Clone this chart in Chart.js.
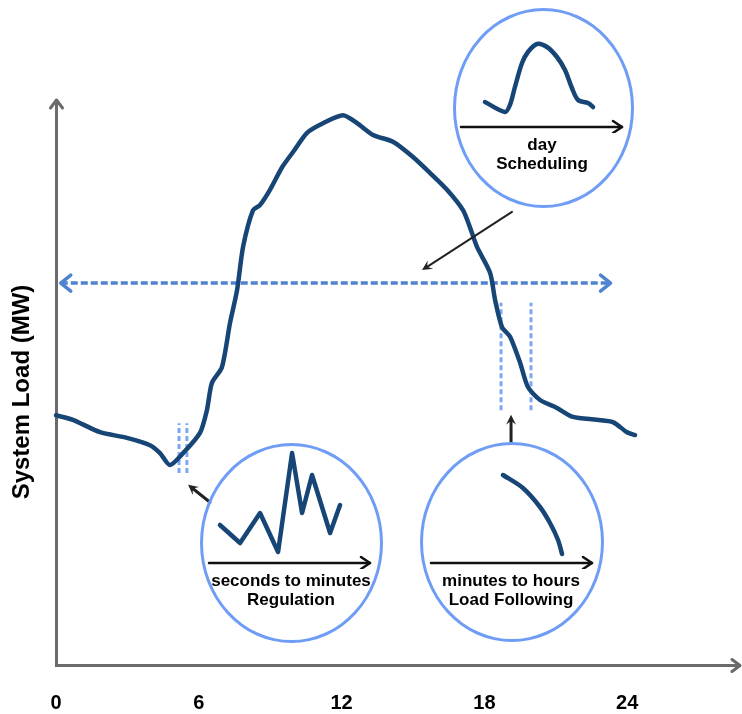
<!DOCTYPE html>
<html>
<head>
<meta charset="utf-8">
<script src="https://cdn.jsdelivr.net/npm/chart.js@4.4.1/dist/chart.umd.min.js"></script>
<style>
  html, body { margin:0; padding:0; background:#fff; }
  #stage { position:relative; width:742px; height:714px; overflow:hidden; }
  #main { position:absolute; left:0; top:0; }
  .ellipse { position:absolute; box-sizing:border-box; border:3px solid #6f9df5; border-radius:50%; }
  .inset { position:absolute; }
  .label { position:absolute; width:220px; text-align:center; font:bold 17px "Liberation Sans", Arial, sans-serif; line-height:19px; color:#000; }
</style>
</head>
<body>
<div id="stage">
  <canvas id="main" width="742" height="714"></canvas>

  <div class="ellipse" style="left:200px;top:443px;width:183px;height:200px;"></div>
  <div class="ellipse" style="left:420px;top:442px;width:184px;height:200px;"></div>
  <div class="ellipse" style="left:453px;top:8px;width:181px;height:200px;"></div>

  <div class="inset" style="left:203px;top:437px;width:173px;height:132px;"><canvas id="reg" width="173" height="132"></canvas></div>
  <div class="inset" style="left:425px;top:437px;width:173px;height:132px;"><canvas id="lf" width="173" height="132"></canvas></div>
  <div class="inset" style="left:455px;top:21px;width:173px;height:112px;"><canvas id="sch" width="173" height="112"></canvas></div>

  <div class="label" style="left:181px;top:571px;">seconds to minutes<br>Regulation</div>
  <div class="label" style="left:401px;top:571px;">minutes to hours<br>Load Following</div>
  <div class="label" style="left:432px;top:135px;">day<br>Scheduling</div>
</div>

<script>
// ---- Main daily load curve (hours, load in % of axis height) ----
const hours = [0,0.71,1.85,2.98,3.95,4.37,4.79,5.34,6.05,6.34,6.55,6.97,7.31,7.61,7.86,8.28,8.57,8.99,9.50,9.96,10.55,11.22,12.06,12.65,13.32,14.16,15.0,15.71,16.43,17.10,17.39,17.69,18.24,18.45,18.74,19.08,19.50,19.83,20.34,21.05,21.72,22.73,23.40,23.99,24.33];
const load  = [44.2,43.4,41.2,40.2,38.9,37.5,35.4,37.5,41.1,45.1,49.9,52.7,60.5,66.4,74.0,80.5,81.4,84.1,88.1,90.8,94.2,95.9,97.3,95.9,93.8,92.6,89.9,87.1,84.1,80.5,77.5,74.0,69.4,64.6,59.8,58.1,53.5,49.2,46.9,45.5,43.9,43.4,43.0,41.2,40.7];
const tickLabels = [0, 6, 12, 18, 24];

// Scheduling horizon arrow (double headed): start hour, end hour, level
const rangeArrowHours = [0.2, 23.3];
const rangeArrowLevel = [67.6, 67.6];

// Regulation window markers (two dashed verticals)
const regMarkerHours = [5.17, 5.50];
const regMarkerLoad  = [34.0, 42.8];
// Load-following window markers
const lfMarkerHours = [18.70, 19.96];
const lfMarkerLoad  = [45.1, 64.1];

// Callout pointers [fromHour, fromLoad, toHour, toLoad]
const schedPointer = [19.16, 80.2, 15.38, 69.9];
const regPointer   = [6.47, 28.8, 5.55, 31.9];
const lfPointer    = [19.12, 39.5, 19.12, 44.3];

// ---- Inset series ----
const regT = [0.68,1.93,3.17,4.29,5.16,5.78,6.40,7.52,8.14];
const regV = [38,20,50,11,110,50,88,30,58];
const lfT  = [4.47,5.71,6.77,7.39,7.89,8.14];
const lfV  = [88,75,56,40,23,9];
const schT = [1.49,2.73,3.04,3.35,3.79,4.16,4.72,5.34,5.96,6.46,6.89,7.27,7.89,8.20];
const schV = [25,15,22,40,64,75,83,80,70,57,39,27,24,20];

const NAVY = '#174575';
const FONT = '"Liberation Sans", Arial, sans-serif';

function pts(xs, ys){ return xs.map((v,i)=>({x:v, y:ys[i]})); }

function chevron(ctx, x, y, ang, len, half){
  const c = Math.cos(ang), s = Math.sin(ang);
  ctx.beginPath();
  ctx.moveTo(x - len*c - half*s, y - len*s + half*c);
  ctx.lineTo(x, y);
  ctx.lineTo(x - len*c + half*s, y - len*s - half*c);
  ctx.stroke();
}
function pointer(ctx, x1, y1, x2, y2, w){
  const ang = Math.atan2(y2-y1, x2-x1);
  const c = Math.cos(ang), s = Math.sin(ang);
  const len = 10, half = 5;
  ctx.lineWidth = w;
  ctx.beginPath();
  ctx.moveTo(x1, y1);
  ctx.lineTo(x2 - len*0.6*c, y2 - len*0.6*s);
  ctx.stroke();
  ctx.beginPath();
  ctx.moveTo(x2, y2);
  ctx.lineTo(x2 - len*c - half*s, y2 - len*s + half*c);
  ctx.lineTo(x2 - len*0.6*c, y2 - len*0.6*s);
  ctx.lineTo(x2 - len*c + half*s, y2 - len*s - half*c);
  ctx.closePath();
  ctx.fill();
}

const overlay = {
  id: 'overlay',
  afterDraw(chart){
    const {ctx, chartArea:a, scales:{x, y}} = chart;
    ctx.save();
    ctx.lineCap = 'round'; ctx.lineJoin = 'round';
    // axis arrowheads
    ctx.strokeStyle = '#6b6b6b'; ctx.lineWidth = 3;
    chevron(ctx, a.left + 0.5, a.top, -Math.PI/2, 8, 6);
    chevron(ctx, a.right, a.bottom + 0.5, 0, 8, 6);
    // range arrowheads
    ctx.strokeStyle = '#4f82cf'; ctx.lineWidth = 3.5;
    const ry = y.getPixelForValue(rangeArrowLevel[0]);
    chevron(ctx, x.getPixelForValue(rangeArrowHours[0]), ry, Math.PI, 10, 8);
    chevron(ctx, x.getPixelForValue(rangeArrowHours[1]), ry, 0, 10, 8);
    // pointers
    ctx.strokeStyle = '#222'; ctx.fillStyle = '#222';
    [[schedPointer,2], [regPointer,3], [lfPointer,3]].forEach(([p,w])=>{
      pointer(ctx, x.getPixelForValue(p[0]), y.getPixelForValue(p[1]),
                   x.getPixelForValue(p[2]), y.getPixelForValue(p[3]), w);
    });
    // y title
    ctx.fillStyle = '#000';
    ctx.font = 'bold 24px ' + FONT;
    ctx.textAlign = 'center'; ctx.textBaseline = 'middle';
    ctx.translate(22, 392);
    ctx.rotate(-Math.PI/2);
    ctx.fillText('System Load (MW)', 0, 0);
    ctx.restore();
  }
};

const markerStyle = { borderColor:'#7ea6f6', borderWidth:3, borderDash:[5,3], pointRadius:0, fill:false };

new Chart(document.getElementById('main'), {
  type: 'line',
  data: {
    datasets: [
      { data: pts(hours, load), borderColor: NAVY, borderWidth: 4.5, pointRadius: 0, tension: 0.25,
        borderCapStyle:'round', borderJoinStyle:'round', clip:false },
      { data: pts(rangeArrowHours, rangeArrowLevel), borderColor:'#4f82cf', borderWidth:3.5, borderDash:[7,3], pointRadius:0 },
      { data: pts([regMarkerHours[0],regMarkerHours[0]], regMarkerLoad), ...markerStyle },
      { data: pts([regMarkerHours[1],regMarkerHours[1]], regMarkerLoad), ...markerStyle },
      { data: pts([lfMarkerHours[0],lfMarkerHours[0]], lfMarkerLoad), ...markerStyle },
      { data: pts([lfMarkerHours[1],lfMarkerHours[1]], lfMarkerLoad), ...markerStyle }
    ]
  },
  options: {
    responsive: false, animation: false, devicePixelRatio: 1,
    layout: { padding: { top: 100, right: 2, left: 0, bottom: 0 } },
    plugins: { legend: { display:false }, tooltip: { enabled:false } },
    scales: {
      x: {
        type: 'linear', min: 0, max: 28.74,
        grid: { display:false, drawTicks:false },
        border: { display:true, color:'#6b6b6b', width:3 },
        afterBuildTicks: s => { s.ticks = tickLabels.map(v => ({ value: v })); },
        afterFit: s => { s.height = 49; },
        ticks: { color:'#000', padding:26, maxRotation:0, font:{ family:FONT, size:20, weight:'bold' } }
      },
      y: {
        type: 'linear', min: 0, max: 100,
        grid: { display:false, drawTicks:false },
        border: { display:true, color:'#6b6b6b', width:3 },
        ticks: { display:false },
        afterFit: s => { s.width = 56; }
      }
    }
  },
  plugins: [overlay]
});

const insetArrow = {
  id: 'insetArrow',
  afterDraw(chart){
    const {ctx, chartArea:a} = chart;
    ctx.save();
    ctx.strokeStyle = '#111'; ctx.lineWidth = 2.5; ctx.lineCap = 'round'; ctx.lineJoin = 'round';
    ctx.beginPath(); ctx.moveTo(a.left, a.bottom); ctx.lineTo(a.right, a.bottom); ctx.stroke();
    chevron(ctx, a.right, a.bottom, 0, 9, 6);
    ctx.restore();
  }
};

function inset(id, xs, ys, ymax, tension){
  new Chart(document.getElementById(id), {
    type: 'line',
    data: { datasets: [{ data: pts(xs, ys), borderColor: NAVY, borderWidth: 4.5, pointRadius: 0,
      tension: tension, clip:false, borderCapStyle:'round', borderJoinStyle:'round' }] },
    options: {
      responsive:false, animation:false, devicePixelRatio:1,
      layout: { padding: 6 },
      plugins: { legend:{display:false}, tooltip:{enabled:false} },
      scales: {
        x: { type:'linear', min:0, max:10, display:false },
        y: { type:'linear', min:0, max:ymax, display:false }
      }
    },
    plugins: [insetArrow]
  });
}
inset('reg', regT, regV, 120, 0);
inset('lf', lfT, lfV, 120, 0.3);
inset('sch', schT, schV, 100, 0.3);
</script>
</body>
</html>
